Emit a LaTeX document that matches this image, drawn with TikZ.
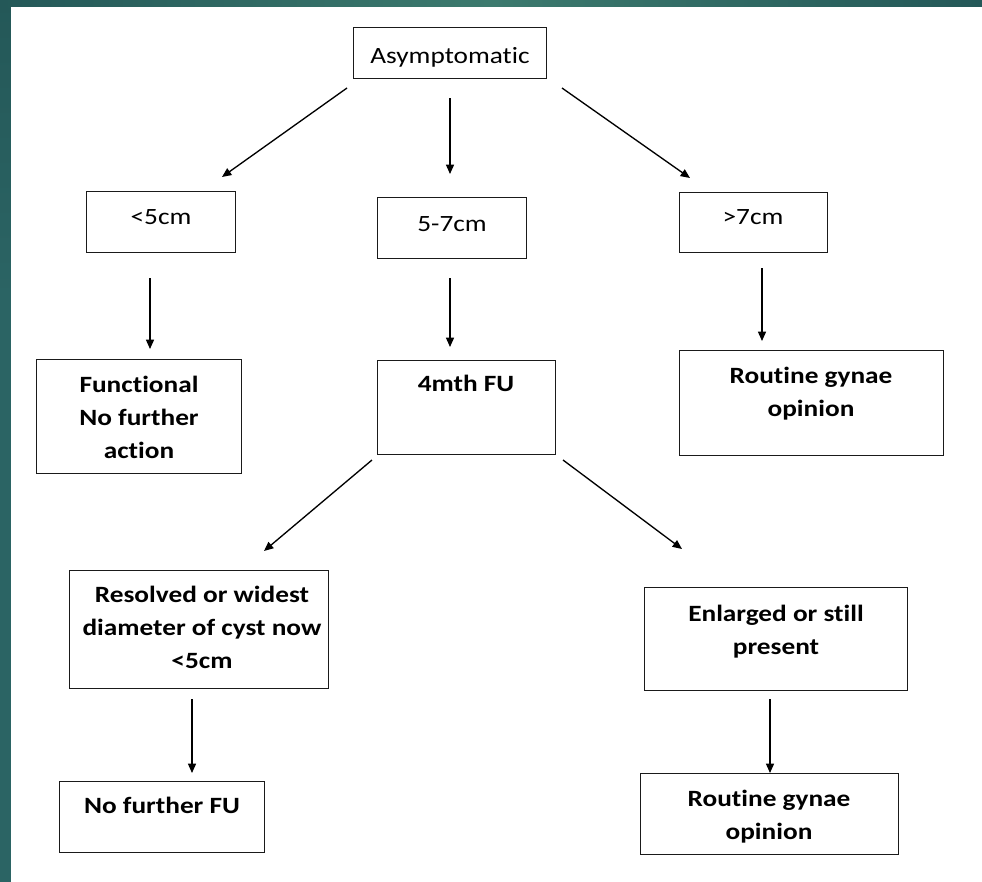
\documentclass[tikz,border=0pt]{standalone}
\usepackage{fontspec}
\setmainfont[FakeStretch=1.17,Ligatures={NoCommon}]{Carlito}
\usetikzlibrary{arrows.meta}
\definecolor{tealA}{HTML}{245858}
\definecolor{tealB}{HTML}{2B6464}
\definecolor{tealC}{HTML}{3C7A6E}
\definecolor{boxline}{HTML}{1A1A1A}
\newcommand{\fl}{\rule{0pt}{14pt}}
\begin{document}
\begin{tikzpicture}[x=0.75pt,y=-0.75pt,
  lbl/.style={anchor=north,align=center,inner sep=0pt,font=\fontsize{17.5}{24.5}\selectfont},
  lblb/.style={lbl,font=\fontsize{17.5}{24.5}\selectfont\bfseries},
  arr/.style={line width=1pt,-{Triangle[length=7pt,width=6pt]}}]
\useasboundingbox (0,0) rectangle (982,882);
% background frame
\fill[tealB] (0,0) rectangle (982,882);
\shade[top color=tealA,bottom color=tealB] (0,0) rectangle (11,300);
\shade[left color=tealA,right color=tealC] (0,0) rectangle (491,7);
\shade[left color=tealC,right color=tealA] (491,0) rectangle (982,7);
\fill[white] (11,7) rectangle (982,882);
% boxes
\newcommand{\bx}[5]{\node[draw=boxline,line width=1.1pt,inner sep=0pt,minimum width=#4*0.75pt-1.1pt,minimum height=#5*0.75pt-1.1pt,anchor=north west] (#1) at (#2,#3) {};}
\bx{asym}{353}{27}{194}{52}
\bx{lt}{86}{191}{150}{62}
\bx{mid}{377}{197}{150}{62}
\bx{gt}{679}{192}{149}{61}
\bx{func}{36}{359}{206}{115}
\bx{fu}{377}{360}{179}{95}
\bx{rg1}{679}{350}{265}{106}
\bx{res}{69}{570}{260}{119}
\bx{enl}{644}{587}{264}{104}
\bx{nofu}{59}{781}{206}{72}
\bx{rg2}{640}{773}{259}{82}
% labels
\node[lbl]  (tasym) at (450,45) {\fl Asymptomatic};
\node[lbl]  (tlt)   at (161,206) {\fl <5cm};
\node[lbl]  (tmid)  at (452,213) {\fl 5-7cm};
\node[lbl]  (tgt)   at (753,206) {\fl >7cm};
\node[lblb] (tfunc) at (139,374) {\fl Functional\\No further\\action};
\node[lblb] (tfu)   at (466,373) {\fl 4mth FU};
\node[lblb] (trg1)  at (811,365) {\fl Routine gynae\\opinion};
\node[lblb] (tres)  at (202,584) {\fl Resolved or widest\\diameter of cyst now\\<5cm};
\node[lblb] (tenl)  at (776,603) {\fl Enlarged or still\\present};
\node[lblb] (tnofu) at (162,795) {\fl No further FU};
\node[lblb] (trg2)  at (769,788) {\fl Routine gynae\\opinion};
% arrow end points
\coordinate (a1s) at (347,88);  \coordinate (a1e) at (222,177);
\coordinate (a2s) at (450,98);  \coordinate (a2e) at (450,174);
\coordinate (a3s) at (562,88);  \coordinate (a3e) at (690,178);
\coordinate (a4s) at (150,278); \coordinate (a4e) at (150,349);
\coordinate (a5s) at (450,278); \coordinate (a5e) at (450,347);
\coordinate (a6s) at (762,268); \coordinate (a6e) at (762,341);
\coordinate (a7s) at (372,460); \coordinate (a7e) at (264,551);
\coordinate (a8s) at (563,460); \coordinate (a8e) at (682,549);
\coordinate (a9s) at (192,699); \coordinate (a9e) at (192,773);
\coordinate (a10s) at (770,699); \coordinate (a10e) at (770,773);
\foreach \i in {1,...,10} { \draw[arr] (a\i s) -- (a\i e); }
\end{tikzpicture}
\end{document}
